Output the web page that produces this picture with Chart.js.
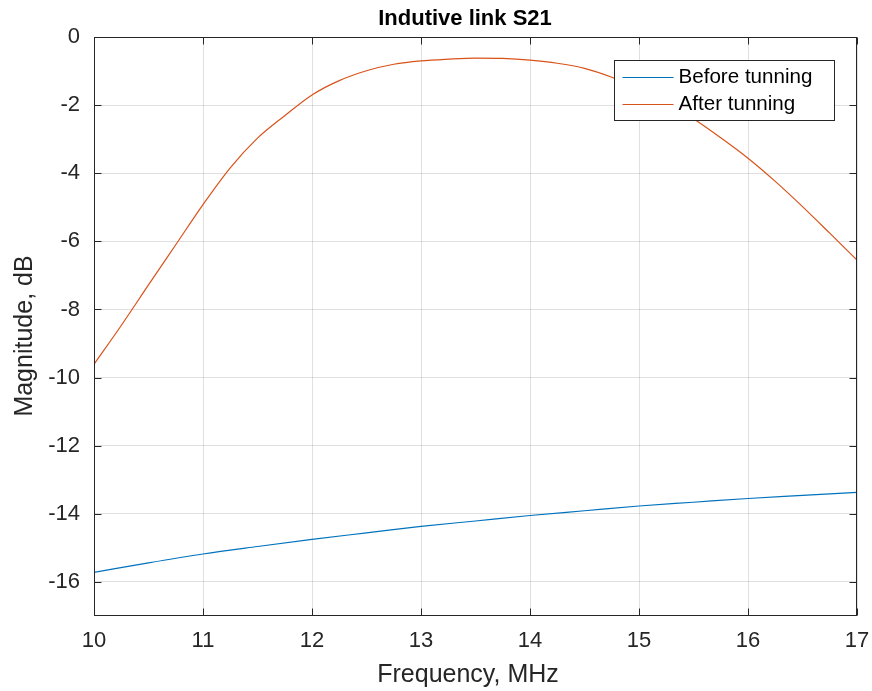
<!DOCTYPE html>
<html>
<head>
<meta charset="utf-8">
<script src="https://cdn.jsdelivr.net/npm/chart.js@4"></script>
<style>
  html, body { margin: 0; padding: 0; background: #fff; }
  #wrap { width: 872px; height: 691px; }
</style>
</head>
<body>
<div id="wrap"><canvas id="s21Chart" width="872" height="691"></canvas></div>
<script>
// values
const freqBefore = [10, 10.5, 11, 11.5, 12, 12.5, 13, 13.5, 14, 14.5, 15, 15.5, 16, 16.5, 17];
const magBefore  = [-15.72, -15.44, -15.18, -14.96, -14.75, -14.56, -14.37, -14.21, -14.05, -13.91, -13.77,
                    -13.66, -13.55, -13.46, -13.37];

const freqAfter = [10, 10.25, 10.5, 10.75, 11, 11.25, 11.5, 11.75, 12, 12.25, 12.5, 12.75, 13, 13.25, 13.5,
                   13.75, 14, 14.25, 14.5, 14.75, 15, 15.25, 15.5, 15.75, 16, 16.25, 16.5, 16.75, 17];
const magAfter  = [-9.61, -8.47, -7.28, -6.1, -4.92, -3.84, -2.97, -2.31, -1.7, -1.28, -0.99, -0.8, -0.7, -0.65, -0.62,
                   -0.63, -0.68, -0.77, -0.92, -1.18, -1.52, -1.93, -2.4, -2.96, -3.56, -4.24, -4.98, -5.76, -6.55];

const xTicks = [10, 11, 12, 13, 14, 15, 16, 17];
const yTicks = [-16, -14, -12, -10, -8, -6, -4, -2, 0];
const seriesNames = ['Before tunning', 'After tunning'];
const seriesColors = ['#0072BD', '#D95319'];

const ink = '#262626';
const FONT = "'Liberation Sans', Arial, Helvetica, sans-serif";

function toPoints(xs, ys) {
    return xs.map((x, i) => ({ x: x, y: ys[i] }));
}

// box around the axes with inward ticks on all four sides (matlab style)
const frame = {
    id: 'frame',
    afterDatasetsDraw(chart) {
        const { ctx, chartArea: a, scales } = chart;
        ctx.save();
        ctx.strokeStyle = ink;
        ctx.lineWidth = 1;
        const L = Math.round(a.left) + 0.5, R = Math.round(a.right) - 0.5;
        const T = Math.round(a.top) + 0.5, B = Math.round(a.bottom) - 0.5;
        ctx.strokeRect(L, T, R - L, B - T);
        ctx.beginPath();
        xTicks.forEach(v => {
            const px = Math.round(scales.x.getPixelForValue(v)) + 0.5;
            ctx.moveTo(px, B); ctx.lineTo(px, B - 7);
            ctx.moveTo(px, T); ctx.lineTo(px, T + 7);
        });
        yTicks.forEach(v => {
            const py = Math.round(scales.y.getPixelForValue(v)) + 0.5;
            ctx.moveTo(L, py); ctx.lineTo(L + 7, py);
            ctx.moveTo(R, py); ctx.lineTo(R - 7, py);
        });
        ctx.stroke();
        ctx.restore();
    }
};

// title and axis labels, placed like matlab does
const labels = {
    id: 'labels',
    afterDraw(chart) {
        const { ctx } = chart;
        ctx.save();
        ctx.textAlign = 'center';
        ctx.textBaseline = 'middle';
        ctx.fillStyle = '#000';
        ctx.font = 'bold 22px ' + FONT;
        ctx.fillText('Indutive link S21', 465, 19);
        ctx.fillStyle = ink;
        ctx.font = '25px ' + FONT;
        ctx.fillText('Frequency, MHz', 468, 675);
        ctx.translate(25, 336);
        ctx.rotate(-Math.PI / 2);
        ctx.fillText('Magnitude, dB', 0, 0);
        ctx.restore();
    }
};

// legend box in the upper right corner of the axes
const boxLegend = {
    id: 'boxLegend',
    afterDraw(chart) {
        const { ctx } = chart;
        const x = 614.5, y = 60.5, w = 220, h = 60;
        ctx.save();
        ctx.fillStyle = '#fff';
        ctx.fillRect(x, y, w, h);
        ctx.strokeStyle = ink;
        ctx.lineWidth = 1;
        ctx.strokeRect(x, y, w, h);
        ctx.font = '20.6px ' + FONT;
        ctx.textBaseline = 'middle';
        ctx.textAlign = 'left';
        seriesNames.forEach((name, i) => {
            const ly = y + 17 + i * 27;
            ctx.strokeStyle = seriesColors[i];
            ctx.beginPath();
            ctx.moveTo(x + 8, ly); ctx.lineTo(x + 59, ly);
            ctx.stroke();
            ctx.fillStyle = '#000';
            ctx.fillText(name, x + 64, ly);
        });
        ctx.restore();
    }
};

const ctx = document.getElementById('s21Chart').getContext('2d');
new Chart(ctx, {
    type: 'line',
    data: {
        datasets: [
            { label: seriesNames[0], data: toPoints(freqBefore, magBefore), borderColor: seriesColors[0],
              borderWidth: 1.2, pointRadius: 0, cubicInterpolationMode: 'monotone', fill: false },
            { label: seriesNames[1], data: toPoints(freqAfter, magAfter), borderColor: seriesColors[1],
              borderWidth: 1.2, pointRadius: 0, cubicInterpolationMode: 'monotone', fill: false }
        ]
    },
    options: {
        responsive: false,
        animation: false,
        layout: { padding: { left: 0, right: 15, top: 37, bottom: 0 } },
        plugins: {
            legend: { display: false },
            tooltip: { enabled: false },
            title: { display: false }
        },
        scales: {
            x: {
                type: 'linear', min: 10, max: 17,
                afterBuildTicks: s => { s.ticks = xTicks.map(v => ({ value: v })); },
                afterFit: s => { s.height = 75; s.paddingLeft = 0; s.paddingRight = 0; },
                ticks: { color: ink, font: { family: FONT, size: 22 }, padding: 12, maxRotation: 0 },
                grid: { color: 'rgba(38,38,38,0.14)', drawTicks: false },
                border: { display: false }
            },
            y: {
                type: 'linear', min: -17, max: 0,
                afterBuildTicks: s => { s.ticks = yTicks.map(v => ({ value: v })); },
                afterFit: s => { s.width = 94; s.paddingTop = 0; s.paddingBottom = 0; },
                ticks: { color: ink, font: { family: FONT, size: 22 }, padding: 14 },
                grid: { color: 'rgba(38,38,38,0.14)', drawTicks: false },
                border: { display: false }
            }
        }
    },
    plugins: [frame, labels, boxLegend]
});
</script>
</body>
</html>
